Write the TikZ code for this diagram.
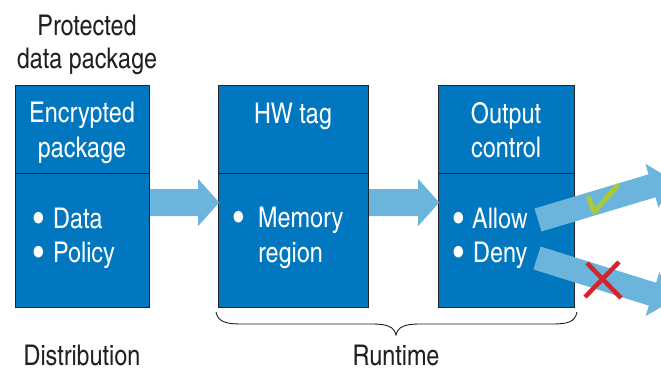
\documentclass[tikz,border=0pt]{standalone}
\usepackage{fontspec}
\usepackage{graphicx}
\setmainfont{TeX Gyre Heros Cn}
\usetikzlibrary{calc}
\definecolor{boxblue}{RGB}{0,119,190}
\definecolor{boxline}{RGB}{35,35,40}
\definecolor{arrowblue}{RGB}{107,181,221}
\definecolor{textdark}{RGB}{35,31,32}
\definecolor{checkgreen}{RGB}{168,201,58}
\definecolor{crossred}{RGB}{214,36,44}
\newcommand\fatarrow[5]{%
  \begin{scope}[shift={#1}, rotate=#2]
    \fill[arrowblue] (0,-#4) -- ({#3-21},-#4) -- ({#3-21},-#5) -- (#3,0)
      -- ({#3-21},#5) -- ({#3-21},#4) -- (0,#4) -- cycle;
  \end{scope}}
\newcommand\bigbul{\scalebox{1.3}{\textbullet}}
\begin{document}
\begin{tikzpicture}[x=1pt,y=-1pt,
  box/.style={draw=boxline, line width=1.2pt, fill=boxblue, inner sep=0pt, anchor=north west},
  lbl/.style={font=\fontsize{28.5}{32}\selectfont, inner sep=0pt, anchor=base, text=textdark},
  wlbl/.style={lbl, text=white},
  bul/.style={wlbl, anchor=base},
  item/.style={wlbl, anchor=base west}]
\useasboundingbox (0,0) rectangle (661,370);
\clip (0,0) rectangle (661,370);

% boxes
\node[box, minimum width=134pt, minimum height=88pt] (h1) at (15,85) {};
\node[box, minimum width=134pt, minimum height=134pt] (d1) at (15,173) {};
\node[box, minimum width=150pt, minimum height=88pt] (h2) at (218,85) {};
\node[box, minimum width=150pt, minimum height=134pt] (d2) at (218,173) {};
\node[box, minimum width=136pt, minimum height=88pt] (h3) at (438,85) {};
\node[box, minimum width=136pt, minimum height=134pt] (d3) at (438,173) {};

% top labels
\node[lbl] (prot1) at (87,35) {Protected};
\node[lbl] (prot2) at (87,68) {data package};

% header texts
\node[wlbl] (enc1) at (82,122) {Encrypted};
\node[wlbl] (enc2) at (82,157) {package};
\node[wlbl] (hw) at (293,123) {HW tag};
\node[wlbl] (out1) at (506,123) {Output};
\node[wlbl] (out2) at (506,157) {control};

% bullets
\node[bul] (b11) at (39,231) {\bigbul};
\node[item] (data) at (53,228) {Data};
\node[bul] (b12) at (39,265) {\bigbul};
\node[item] (policy) at (53,262) {Policy};
\node[bul] (b21) at (239,230) {\bigbul};
\node[item] (mem) at (258,227) {Memory};
\node[item] (reg) at (258,262) {region};
\node[bul] (b31) at (459,231) {\bigbul};
\node[item] (allow) at (472,228) {Allow};
\node[bul] (b32) at (459,265) {\bigbul};
\node[item] (deny) at (473,262) {Deny};

% connecting arrows
\coordinate (a1) at ($(d1.north east)+(0,29.5)$);
\coordinate (a2) at ($(d2.north east)+(0,29.5)$);
\fatarrow{(a1)}{0}{69}{13.5}{23.5}
\fatarrow{(a2)}{0}{70}{13.5}{23.5}

% output arrows
\coordinate (allowout) at (538,220);
\coordinate (denyout) at (537,258);
\fatarrow{(allowout)}{16.7}{140}{12}{23}
\fatarrow{(denyout)}{-17.4}{142}{12}{23}

% check and cross
\draw[checkgreen, line width=5pt, line cap=round, line join=round]
  (589,198) -- (594,212) -- (617,186);
\draw[crossred, line width=4.5pt] (587,263) -- (621,298) (619,262) -- (585,297);

% brace
\draw[textdark, line width=0.9pt]
  (216,312) .. controls (218,322) and (226,324) .. (242,324) -- (372,324)
  .. controls (388,324) and (394,327) .. (396,335)
  .. controls (398,327) and (404,324) .. (420,324) -- (552,324)
  .. controls (568,324) and (575,322) .. (577,312);

% bottom labels
\node[lbl] (dist) at (82,365) {Distribution};
\node[lbl] (run) at (396,365) {Runtime};
\end{tikzpicture}
\end{document}
